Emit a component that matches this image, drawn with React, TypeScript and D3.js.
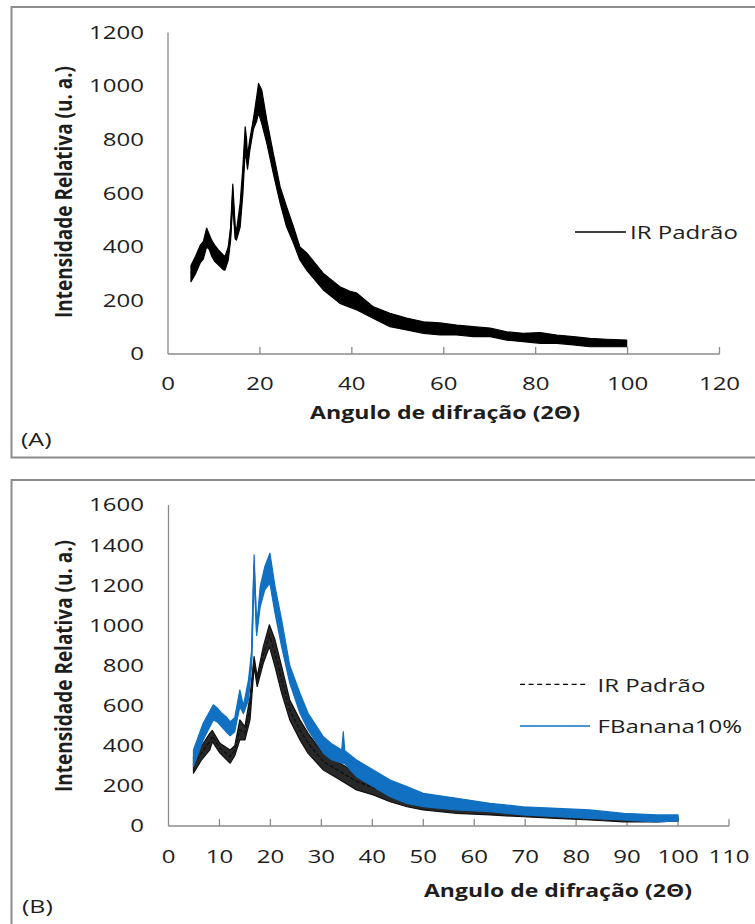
import React from 'react';
import * as d3 from 'd3';

// ---------- Panel A: IR Padrão (band: angle, lower, upper) ----------
const A_ANGLE = [5.0, 6.0, 7.0, 7.7, 8.4, 9.0, 9.5, 10.2, 11.0, 12.0, 12.4, 13.1, 13.6, 14.1, 14.6, 14.9, 15.7, 16.3, 16.8, 17.1, 17.3, 17.8, 18.6, 19.3, 19.7, 20.4, 21.5, 22.9, 24.4, 25.8, 27.3, 28.7, 30.3, 33.8, 37.4, 39.5, 41.1, 44.7, 48.3, 51.9, 55.6, 59.2, 62.8, 66.4, 70.1, 73.7, 77.3, 81.0, 84.6, 88.2, 91.8, 95.5, 99.8];
const A_LOW = [270, 300, 340, 355, 400, 390, 365, 345, 332, 315, 313, 350, 420, 560, 430, 425, 474, 600, 760, 720, 690, 760, 840, 870, 900, 860, 787, 675, 563, 475, 414, 351, 310, 239, 189, 175, 164, 133, 102, 90, 77, 71, 71, 65, 65, 52, 46, 40, 40, 34, 27, 27, 27];
const A_HIGH = [330, 365, 405, 420, 470, 445, 425, 405, 388, 370, 363, 400, 470, 634, 480, 460, 563, 700, 848, 800, 740, 800, 880, 960, 1010, 985, 873, 750, 624, 550, 475, 400, 375, 301, 251, 235, 227, 176, 152, 134, 120, 116, 108, 102, 97, 83, 77, 80, 71, 65, 58, 55, 52];

// ---------- Panel B: IR Padrão (dashed) ----------
const B_IR_ANGLE = [4.9, 6.5, 8.1, 8.6, 10.1, 12.1, 13.0, 14.0, 15.0, 16.0, 16.8, 17.4, 18.6, 19.8, 20.9, 22.2, 23.8, 25.8, 27.4, 30.4, 33.7, 36.9, 40.2, 43.5, 46.8, 50.0, 56.6, 63.1, 69.6, 76.2, 82.7, 89.3, 95.8, 100.0];
const B_IR_LOW = [263, 330, 379, 420, 363, 313, 350, 429, 429, 529, 795, 695, 811, 894, 795, 662, 529, 429, 362, 279, 229, 180, 155, 121, 96, 80, 63, 55, 46, 38, 30, 21, 21, 25];
const B_IR_HIGH = [346, 400, 462, 476, 412, 379, 400, 529, 495, 645, 845, 745, 894, 1003, 928, 795, 628, 529, 462, 362, 313, 263, 229, 196, 155, 130, 113, 96, 88, 71, 63, 55, 46, 45];

// ---------- Panel B: FBanana10% ----------
const B_FB_ANGLE = [4.9, 6.8, 8.8, 9.5, 10.4, 11.3, 12.1, 13.0, 14.0, 14.7, 15.7, 16.3, 16.8, 17.3, 18.0, 18.9, 19.9, 20.9, 22.2, 23.8, 25.8, 27.4, 30.4, 32.0, 34.0, 34.3, 34.6, 36.9, 40.2, 43.5, 46.8, 50.0, 56.6, 63.1, 69.6, 76.2, 82.7, 89.3, 95.8, 100.0];
const B_FB_LOW = [296, 429, 529, 520, 495, 470, 450, 470, 595, 560, 628, 800, 1250, 950, 1094, 1177, 1210, 1061, 894, 712, 562, 479, 363, 330, 313, 313, 310, 246, 196, 146, 113, 96, 80, 71, 55, 46, 38, 30, 21, 25];
const B_FB_HIGH = [379, 512, 604, 590, 564, 545, 520, 540, 678, 600, 728, 870, 1352, 990, 1194, 1293, 1360, 1194, 1028, 800, 662, 562, 445, 410, 379, 470, 375, 329, 279, 229, 196, 163, 138, 113, 96, 88, 80, 63, 55, 55];

const A_X_TICKS = [0, 20, 40, 60, 80, 100, 120];
const A_Y_TICKS = [0, 200, 400, 600, 800, 1000, 1200];
const B_X_TICKS = [0, 10, 20, 30, 40, 50, 60, 70, 80, 90, 100, 110];
const B_Y_TICKS = [0, 200, 400, 600, 800, 1000, 1200, 1400, 1600];

const X_TITLE = 'Angulo de difração (2Θ)';
const Y_TITLE = 'Intensidade Relativa (u. a.)';
const NAME_IR = 'IR Padrão';
const NAME_FB = 'FBanana10%';

const SX = 1.35;
const FONT = "'Open Sans', sans-serif";
const AXIS = '#8a8a8a';
const TXT = '#1e1e1e';
const BLUE = '#1170c2';

type Pt = { a: number; lo: number; hi: number };
const zip = (a: number[], lo: number[], hi: number[]): Pt[] => a.map((v, i) => ({ a: v, lo: lo[i], hi: hi[i] }));

function Label({ x, y, anchor = 'start', size = 17.8, weight = 400, children }: any) {
  return (
    <text
      transform={`translate(${x},${y}) scale(${SX},1)`}
      textAnchor={anchor}
      fontSize={size}
      fontWeight={weight}
      fontFamily={FONT}
      fill={TXT}
    >
      {children}
    </text>
  );
}

function Band({ data, xs, ys, color, dashed }: { data: Pt[]; xs: any; ys: any; color: string; dashed?: boolean }) {
  const area = d3
    .area<Pt>()
    .x((d) => xs(d.a))
    .y0((d) => ys(d.lo))
    .y1((d) => ys(d.hi))
    .curve(d3.curveLinear);
  const line = d3
    .line<Pt>()
    .x((d) => xs(d.a))
    .y((d) => ys((d.lo + d.hi) / 2))
    .curve(d3.curveLinear);
  return (
    <g>
      <path d={area(data) || ''} fill={color} fillOpacity={dashed ? 0.9 : 1} stroke={color} strokeWidth={1.2} strokeLinejoin="round" />
      <path d={line(data) || ''} fill="none" stroke={color} strokeWidth={1.5} strokeDasharray={dashed ? '4,2' : undefined} />
    </g>
  );
}

function Axes({ xs, ys, xTicks, yTicks, tickLabelY }: any) {
  const [x0, x1] = xs.range();
  const [y0, y1] = ys.range();
  return (
    <g>
      <line x1={x0} x2={x0} y1={y0} y2={y1} stroke={AXIS} strokeWidth={1.3} />
      <line x1={x0} x2={x1} y1={y0} y2={y0} stroke={AXIS} strokeWidth={1.3} />
      {xTicks.slice(1).map((t: number) => (
        <line key={'xt' + t} x1={xs(t)} x2={xs(t)} y1={y0} y2={y0 - 7} stroke={AXIS} strokeWidth={1.3} />
      ))}
      {xTicks.map((t: number) => (
        <Label key={'xl' + t} x={xs(t)} y={tickLabelY} anchor="middle">
          {t}
        </Label>
      ))}
      {yTicks.map((t: number) => (
        <Label key={'yl' + t} x={144} y={ys(t) + 6.4} anchor="end">
          {t}
        </Label>
      ))}
    </g>
  );
}

function YTitle({ x, y }: { x: number; y: number }) {
  return (
    <text
      transform={`translate(${x},${y}) rotate(-90) scale(1,${SX})`}
      textAnchor="middle"
      fontSize={17.5}
      fontWeight={700}
      fontFamily={FONT}
      fill={TXT}
      textLength={252}
      lengthAdjust="spacingAndGlyphs"
    >
      {Y_TITLE}
    </text>
  );
}

function XTitle({ x, y, len }: { x: number; y: number; len: number }) {
  return (
    <text
      x={x}
      y={y}
      fontSize={18}
      fontWeight={700}
      fontFamily={FONT}
      fill={TXT}
      textLength={len}
      lengthAdjust="spacingAndGlyphs"
    >
      {X_TITLE}
    </text>
  );
}

export default function App() {
  const xA = d3.scaleLinear().domain([0, 120]).range([168, 719.5]);
  const yA = d3.scaleLinear().domain([0, 1200]).range([354, 32.5]);
  const xB = d3.scaleLinear().domain([0, 110]).range([168.5, 729]);
  const yB = d3.scaleLinear().domain([0, 1600]).range([826, 505]);

  const dataA = zip(A_ANGLE, A_LOW, A_HIGH);
  const dataBIR = zip(B_IR_ANGLE, B_IR_LOW, B_IR_HIGH);
  const dataBFB = zip(B_FB_ANGLE, B_FB_LOW, B_FB_HIGH);

  return (
    <svg
      width={755}
      height={924}
      style={{ position: 'absolute', left: 0, top: 0, background: '#fff' }}
      xmlns="http://www.w3.org/2000/svg"
    >
      <rect x={0} y={0} width={755} height={924} fill="#fff" />
      {/* Panel A frame */}
      <rect x={11.5} y={7} width={760} height={450.5} fill="none" stroke="#8c8c8c" strokeWidth={2} />
      {/* Panel B frame */}
      <rect x={11.5} y={480} width={760} height={460} fill="none" stroke="#8c8c8c" strokeWidth={2} />

      {/* Panel A */}
      <Axes xs={xA} ys={yA} xTicks={A_X_TICKS} yTicks={A_Y_TICKS} tickLabelY={389.5} />
      <Band data={dataA} xs={xA} ys={yA} color="#000" />
      <line x1={575} x2={626} y1={232} y2={232} stroke="#000" strokeWidth={1.5} />
      <Label x={630} y={239.3}>{NAME_IR}</Label>
      <YTitle x={72} y={192} />
      <XTitle x={310} y={419} len={270} />
      <Label x={21} y={446} size={18.5}>(A)</Label>

      {/* Panel B */}
      <Axes xs={xB} ys={yB} xTicks={B_X_TICKS} yTicks={B_Y_TICKS} tickLabelY={863} />
      <Band data={dataBIR} xs={xB} ys={yB} color="#111" dashed />
      <Band data={dataBFB} xs={xB} ys={yB} color={BLUE} />
      <line x1={520} x2={589} y1={684.3} y2={684.3} stroke="#000" strokeWidth={1.3} strokeDasharray="5,3.6" />
      <Label x={597.5} y={691.5}>{NAME_IR}</Label>
      <line x1={520} x2={590} y1={726} y2={726} stroke={BLUE} strokeWidth={1.5} />
      <Label x={597.5} y={733}>{NAME_FB}</Label>
      <YTitle x={72} y={666} />
      <XTitle x={424} y={897} len={268} />
      <Label x={22} y={913} size={18.5}>(B)</Label>
    </svg>
  );
}
